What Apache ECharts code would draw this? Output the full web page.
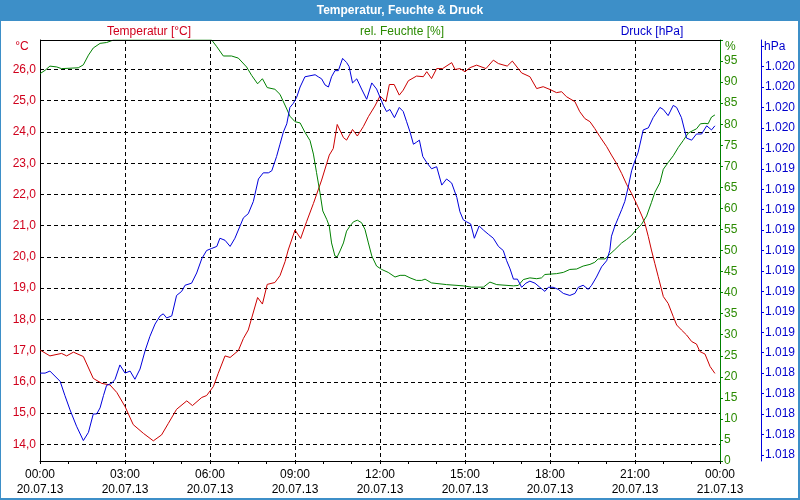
<!DOCTYPE html>
<html><head><meta charset="utf-8">
<script src="https://cdn.jsdelivr.net/npm/echarts@6/dist/echarts.min.js"></script>
<style>html,body{margin:0;padding:0;background:#fff}#c{width:800px;height:500px}</style>
</head><body><div id="c"></div>
<script>
const chartTitle = 'Temperatur, Feuchte & Druck';
const seriesNames = ['Temperatur [°C]', 'rel. Feuchte [%]', 'Druck [hPa]'];
const unitNames = ['°C', '%', 'hPa'];
const xTickLabels = ['00:00\n20.07.13','03:00\n20.07.13','06:00\n20.07.13','09:00\n20.07.13','12:00\n20.07.13','15:00\n20.07.13','18:00\n20.07.13','21:00\n20.07.13','00:00\n21.07.13'];

// hours since 20.07.13 00:00
const tempHours = [0,0.35,0.76,0.94,1.18,1.53,1.88,2.18,2.47,2.71,3,3.29,3.65,4,4.29,4.53,4.82,5.18,5.38,5.71,5.88,6.12,6.29,6.53,6.71,7,7.18,7.35,7.68,7.85,8.02,8.29,8.47,8.65,8.76,9,9.2,9.41,9.65,9.94,10.21,10.35,10.49,10.71,10.82,11.03,11.2,11.41,11.59,11.82,12,12.21,12.33,12.5,12.68,12.82,13,13.29,13.53,13.65,13.82,14,14.21,14.53,14.65,14.82,15,15.18,15.41,15.74,16,16.18,16.49,16.67,17,17.29,17.53,17.76,18,18.23,18.41,18.58,18.88,19.05,19.23,19.41,19.58,19.76,20,20.17,20.35,20.53,20.7,20.88,21.05,21.23,21.35,21.47,21.58,21.7,21.82,22,22.17,22.35,22.47,22.64,22.82,23,23.17,23.29,23.47,23.65,23.82];
const tempValues = [17.02,16.83,16.91,16.83,16.95,16.81,16.11,15.95,15.9,15.66,15.21,14.63,14.35,14.11,14.3,14.67,15.12,15.39,15.24,15.5,15.56,15.85,16.27,16.83,16.78,17,17.39,17.66,18.7,18.49,19.12,19.18,19.4,19.85,20.22,20.86,20.59,21.13,21.71,22.46,23.26,23.47,24.24,23.82,23.74,24.08,23.87,24.17,24.49,24.83,25.15,24.97,25.52,25.52,25.18,25.34,25.64,25.79,25.77,25.93,25.71,26.03,26.03,26.22,26,26.03,25.93,26.06,26.14,26.03,26.3,26.19,26.11,26.27,25.89,25.77,25.39,25.45,25.36,25.26,25.29,25.13,24.97,24.65,24.43,24.33,24.11,23.85,23.53,23.26,22.99,22.67,22.33,22.03,21.71,21.34,21.07,20.65,20.22,19.79,19.37,18.73,18.51,18.09,17.82,17.66,17.5,17.29,17.21,16.97,16.89,16.49,16.27];

const humHours = [0,0.18,0.35,0.59,0.76,1.35,1.53,1.71,1.88,2.12,2.35,2.59,6.06,6.24,6.47,6.76,7,7.29,7.47,7.68,7.85,8.02,8.29,8.47,8.71,8.82,9,9.18,9.35,9.53,9.65,9.76,9.88,9.98,10.12,10.21,10.29,10.41,10.49,10.59,10.71,10.82,10.94,11.06,11.2,11.35,11.47,11.59,11.71,11.88,12.06,12.29,12.53,12.71,12.88,13.06,13.29,13.47,13.59,13.82,14.35,14.94,15.23,15.65,15.88,16.12,16.71,16.88,17.06,17.29,17.53,17.7,17.82,18.23,18.47,18.7,18.94,19.17,19.41,19.58,19.7,19.94,20.11,20.29,20.53,20.7,20.88,21.05,21.23,21.41,21.58,21.7,21.88,22,22.17,22.35,22.53,22.7,22.88,23.05,23.17,23.31,23.47,23.58,23.7,23.82];
const humValues = [92,92.8,93.8,93.6,93.2,93.4,94.1,96.4,98.1,99.2,99.4,100,100,98.4,96.2,96.2,95.7,93.6,91.6,89.6,90.8,88.7,88.3,87.1,83.6,81.9,80.6,80.3,78.1,76.1,72.9,68.5,63.8,59.4,57.4,55.8,51.8,48.7,48.5,49.9,51.8,54.6,55.8,56.8,57.2,56.6,55,51.8,48.7,46.3,45.5,44.8,43.7,44.1,44.1,43.5,42.9,42.9,43.2,42.3,41.9,41.6,41.3,41.3,42.5,41.9,41.6,41.7,43.1,43.5,43.3,43.5,44.3,44.5,44.8,45.5,45.6,46.3,46.7,47.2,48,48,49.1,50.2,51.8,52.6,53.6,55,56.2,58.2,61.4,63.8,66.1,69.3,70.9,72.5,74.5,76.1,77.9,78.5,78.9,80.1,80.2,80.1,81.7,82.2];

const presHours = [0,0.18,0.35,0.71,0.88,1.06,1.29,1.53,1.71,1.88,2,2.12,2.24,2.35,2.53,2.65,2.82,3,3.18,3.35,3.53,3.71,3.88,4.06,4.24,4.35,4.47,4.65,4.82,5,5.12,5.35,5.53,5.71,5.88,6.06,6.24,6.35,6.53,6.71,6.88,7.06,7.18,7.35,7.53,7.71,7.88,8.06,8.18,8.35,8.47,8.59,8.71,8.82,8.94,9.06,9.18,9.35,9.71,9.82,9.94,10.06,10.18,10.29,10.41,10.53,10.68,10.82,10.91,11.03,11.18,11.35,11.53,11.71,11.88,12,12.12,12.23,12.35,12.51,12.68,12.82,12.94,13.06,13.18,13.29,13.39,13.51,13.65,13.82,14,14.18,14.35,14.53,14.71,14.82,14.94,15.06,15.2,15.33,15.5,15.65,15.82,16,16.18,16.35,16.47,16.59,16.71,16.85,17,17.15,17.29,17.47,17.64,17.82,17.94,18.11,18.29,18.47,18.7,18.88,19,19.17,19.35,19.47,19.64,19.82,20,20.11,20.17,20.29,20.41,20.53,20.64,20.76,20.88,21,21.11,21.29,21.47,21.64,21.88,22,22.17,22.35,22.47,22.64,22.82,23,23.17,23.35,23.53,23.7,23.82];
const presValues = [1018.4,1018.4,1018.41,1018.36,1018.29,1018.22,1018.14,1018.07,1018.11,1018.2,1018.2,1018.23,1018.29,1018.34,1018.35,1018.37,1018.44,1018.4,1018.41,1018.37,1018.42,1018.51,1018.58,1018.64,1018.68,1018.69,1018.67,1018.68,1018.78,1018.8,1018.83,1018.84,1018.89,1018.96,1019,1019.01,1019.02,1019.06,1019.05,1019.02,1019.06,1019.12,1019.16,1019.18,1019.24,1019.35,1019.38,1019.38,1019.39,1019.46,1019.52,1019.58,1019.62,1019.7,1019.72,1019.75,1019.8,1019.85,1019.86,1019.85,1019.84,1019.81,1019.8,1019.85,1019.88,1019.88,1019.94,1019.92,1019.9,1019.82,1019.84,1019.79,1019.74,1019.82,1019.79,1019.75,1019.71,1019.68,1019.69,1019.65,1019.7,1019.68,1019.63,1019.58,1019.52,1019.53,1019.54,1019.46,1019.43,1019.4,1019.41,1019.32,1019.35,1019.33,1019.26,1019.19,1019.15,1019.14,1019.13,1019.06,1019.12,1019.1,1019.08,1019.06,1019.02,1019,1018.95,1018.91,1018.86,1018.86,1018.82,1018.84,1018.85,1018.84,1018.82,1018.8,1018.82,1018.82,1018.81,1018.79,1018.78,1018.79,1018.82,1018.83,1018.81,1018.83,1018.87,1018.92,1018.95,1019,1019.07,1019.12,1019.16,1019.2,1019.24,1019.31,1019.39,1019.44,1019.48,1019.59,1019.6,1019.65,1019.7,1019.69,1019.66,1019.71,1019.7,1019.65,1019.55,1019.54,1019.57,1019.57,1019.61,1019.59,1019.61];

const FONT = '"Liberation Sans", Arial, sans-serif';
const BLUEBAR = '#3d8fc8';
const RED = '#cc0000', GREEN = '#008000', BLUE = '#0000dd';
const dash = [4, 3];
function pairs(h, v) { return h.map((x, i) => [x, v[i]]); }

const chart = echarts.init(document.getElementById('c'), null, { renderer: 'canvas' });
chart.setOption({
  animation: false,
  backgroundColor: '#ffffff',
  grid: { left: 40, right: 80, top: 40, bottom: 39, show: false },
  xAxis: {
    type: 'value', min: 0, max: 24, interval: 3,
    axisLine: { show: true, onZero: false, lineStyle: { color: '#000', width: 1 } },
    axisTick: { show: true, length: 3, lineStyle: { color: '#000' } },
    minorTick: { show: true, splitNumber: 3, length: 3, lineStyle: { color: '#000' } },
    splitLine: { show: true, showMinLine: false, showMaxLine: false, lineStyle: { color: '#000', type: dash, width: 1 } },
    axisLabel: { margin: 6, color: '#000', fontFamily: FONT, fontSize: 12, lineHeight: 15,
      formatter: v => xTickLabels[Math.round(v / 3)] }
  },
  yAxis: [
    {
      type: 'value', position: 'left', min: 13.465, max: 26.945, minInterval: 1, maxInterval: 1, splitNumber: 13,
      axisLine: { show: true, onZero: false, lineStyle: { color: '#000' } },
      axisTick: { show: false },
      splitLine: { show: true, showMinLine: false, showMaxLine: false, lineStyle: { color: '#000', type: dash, width: 1 } },
      axisLabel: { margin: 4, color: '#d0001c', fontFamily: FONT, fontSize: 12, showMinLabel: false, showMaxLabel: false,
        formatter: v => v.toFixed(1).replace('.', ',') }
    },
    {
      type: 'value', position: 'right', min: 0, max: 100, interval: 5,
      axisLine: { show: true, onZero: false, lineStyle: { color: GREEN } },
      axisTick: { show: true, length: 3, lineStyle: { color: GREEN } },
      splitLine: { show: false },
      axisLabel: { margin: 4, color: '#2a8a00', fontFamily: FONT, fontSize: 12,
        formatter: v => (v >= 100 ? '' : String(v)) }
    },
    {
      type: 'value', position: 'right', offset: 41, min: 1017.97, max: 1020.03, minInterval: 0.1, maxInterval: 0.1, splitNumber: 20,
      axisLine: { show: true, onZero: false, lineStyle: { color: BLUE } },
      axisTick: { show: true, length: 3, lineStyle: { color: BLUE } },
      splitLine: { show: false },
      axisLabel: { margin: 4, color: '#0000cc', fontFamily: FONT, fontSize: 12, showMinLabel: false, showMaxLabel: false,
        formatter: v => (v > 1019.95 || v < 1017.99 ? '' : (Math.round(v) / 1000).toFixed(3)) }
    }
  ],
  series: [
    { name: seriesNames[0], type: 'line', yAxisIndex: 0, data: pairs(tempHours, tempValues), showSymbol: false, symbol: 'none',
      lineStyle: { color: RED, width: 1 }, itemStyle: { color: RED }, z: 3 },
    { name: seriesNames[1], type: 'line', yAxisIndex: 1, data: pairs(humHours, humValues), showSymbol: false, symbol: 'none',
      lineStyle: { color: GREEN, width: 1 }, itemStyle: { color: GREEN }, z: 3 },
    { name: seriesNames[2], type: 'line', yAxisIndex: 2, data: pairs(presHours, presValues), showSymbol: false, symbol: 'none',
      lineStyle: { color: BLUE, width: 1 }, itemStyle: { color: BLUE }, z: 3 }
  ],
  graphic: [
    { type: 'rect', z: 100, shape: { x: 0, y: 0, width: 800, height: 21 }, style: { fill: BLUEBAR } },
    { type: 'text', z: 101, x: 400, y: 11, style: { text: chartTitle, fill: '#ffffff', font: 'bold 12px ' + FONT,
      align: 'center', verticalAlign: 'middle', textAlign: 'center', textVerticalAlign: 'middle' } },
    { type: 'rect', z: 100, shape: { x: 0, y: 0, width: 799, height: 499 }, style: { fill: 'transparent', stroke: BLUEBAR, lineWidth: 2 } },
    { type: 'line', z: 100, shape: { x1: 40, y1: 40.5, x2: 721, y2: 40.5 }, style: { stroke: '#000', lineWidth: 1 } },
    { type: 'text', z: 101, x: 149, y: 32, style: { text: seriesNames[0], fill: '#d0001c', font: '12px ' + FONT,
      align: 'center', verticalAlign: 'middle', textAlign: 'center', textVerticalAlign: 'middle' } },
    { type: 'text', z: 101, x: 402, y: 32, style: { text: seriesNames[1], fill: '#2a8a00', font: '12px ' + FONT,
      align: 'center', verticalAlign: 'middle', textAlign: 'center', textVerticalAlign: 'middle' } },
    { type: 'text', z: 101, x: 652, y: 32, style: { text: seriesNames[2], fill: '#0000cc', font: '12px ' + FONT,
      align: 'center', verticalAlign: 'middle', textAlign: 'center', textVerticalAlign: 'middle' } },
    { type: 'text', z: 101, x: 22, y: 47, style: { text: unitNames[0], fill: '#d0001c', font: '12px ' + FONT,
      align: 'center', verticalAlign: 'middle', textAlign: 'center', textVerticalAlign: 'middle' } },
    { type: 'text', z: 101, x: 725, y: 47, style: { text: unitNames[1], fill: '#2a8a00', font: '12px ' + FONT,
      align: 'left', verticalAlign: 'middle', textAlign: 'left', textVerticalAlign: 'middle' } },
    { type: 'text', z: 101, x: 764, y: 47, style: { text: unitNames[2], fill: '#0000cc', font: '12px ' + FONT,
      align: 'left', verticalAlign: 'middle', textAlign: 'left', textVerticalAlign: 'middle' } }
  ]
});
</script>
</body></html>
